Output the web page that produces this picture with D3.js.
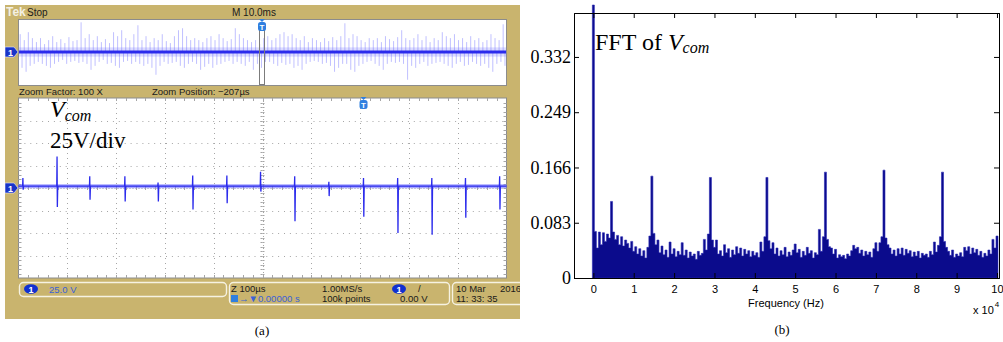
<!DOCTYPE html>
<html>
<head>
<meta charset="utf-8">
<script src="https://cdn.jsdelivr.net/npm/d3@7"></script>
<style>
  html, body { margin: 0; padding: 0; background: #fff; }
  svg { display: block; }
</style>
</head>
<body>
<svg id="fig" width="1003" height="342"></svg>
<script>
// ---- data: (a) scope, top window (10 ms/div), noise envelope per bin, volts
const topNoiseUp = [
  54, 36, 60, 42,
  30, 42, 24, 36, 48, 30, 39, 27, 45, 33, 36,
  90,
  42, 54, 36, 48, 30, 39, 27,
  60, 48, 66, 42, 36, 54,
  81,
  36, 48, 30, 42, 36, 54, 33, 27, 48,
  66, 72, 48, 36, 42,
  36, 30, 42, 48, 36, 54, 42, 33, 39,
  72, 54, 42, 36,
  30, 36, 24, 42,
  48, 36, 42, 54, 60, 48,
  54, 42, 36, 48, 30, 42,
  36, 30, 42, 33, 45, 36, 48,
  87,
  42, 54, 48, 36, 30, 42,
  36, 42, 30, 48, 39, 33,
  45, 66, 42, 36,
  42, 54, 36, 48, 30, 42, 36,
  60, 48, 42, 54, 36, 42, 30,
  48, 36, 42, 30, 36, 54,
  42, 36, 84
];
const topNoiseDown = [
  48, 60, 42, 36,
  30, 36, 42, 48, 36, 30, 24, 36, 30, 27, 33,
  30,
  36, 54, 42, 30, 24, 36, 33,
  42, 48, 30, 27, 36, 30,
  36,
  42, 36, 48, 69, 42, 30, 36, 33, 30,
  42, 48, 36, 30, 36,
  54, 45, 36, 48, 39, 36, 30, 27, 36,
  30, 36, 42, 30,
  54, 36, 48, 30,
  30, 36, 42, 33, 39, 36,
  48, 42, 54, 36, 30, 27,
  30, 36, 33, 42, 60, 48, 36,
  36,
  54, 60, 42, 36, 30, 27,
  36, 42, 54, 36, 30, 33,
  30, 36, 84, 42,
  48, 36, 30, 42, 36, 33, 30,
  36, 42, 48, 36, 30, 42, 39,
  30, 36, 42, 36, 48, 60,
  36, 30, 42
];

// ---- data: (a) scope, zoomed window (100 us/div, 25 V/div)
const vcomBase = 2;
const spikeTimes = [9, 79, 146, 218, 286, 357, 427, 496, 566, 636, 707, 777, 847, 916, 986];
const spikeUp    = [11, 35, 13, 13, 6, 14, 14, 18, 13, 7, 11, 11, 11, 11, 13];
const spikeDown  = [-2, -21, -13, -15, -15, -24, -17, -4, -37, -9, -32, -50, -52, -33, -24];
const triggerTime = 707;

// ---- data: (b) FFT of Vcom, magnitude every 0.05 x 10^4 Hz from 0 to 10
const fftStep = 0.05;
const fftMag = [
  0.410, 0.070, 0.045, 0.069, 0.050, 0.068, 0.055, 0.066, 0.060, 0.115,
  0.069, 0.058, 0.064, 0.050, 0.062, 0.048, 0.057, 0.052, 0.045, 0.055,
  0.040, 0.047, 0.036, 0.044, 0.033, 0.041, 0.030, 0.046, 0.063, 0.153,
  0.067, 0.050, 0.057, 0.038, 0.048, 0.035, 0.042, 0.031, 0.054, 0.036,
  0.044, 0.032, 0.040, 0.035, 0.053, 0.034, 0.042, 0.030, 0.039, 0.033,
  0.036, 0.028, 0.040, 0.034, 0.037, 0.058, 0.042, 0.066, 0.151, 0.057,
  0.046, 0.057, 0.036, 0.041, 0.033, 0.050, 0.038, 0.044, 0.031, 0.042,
  0.035, 0.047, 0.037, 0.045, 0.033, 0.043, 0.036, 0.041, 0.032, 0.040,
  0.034, 0.038, 0.031, 0.054, 0.040, 0.062, 0.151, 0.056, 0.044, 0.053,
  0.036, 0.045, 0.033, 0.041, 0.035, 0.046, 0.032, 0.039, 0.034, 0.042,
  0.051, 0.038, 0.043, 0.031, 0.040, 0.034, 0.046, 0.037, 0.041, 0.030,
  0.038, 0.035, 0.073, 0.040, 0.062, 0.159, 0.058, 0.047, 0.045, 0.036,
  0.043, 0.030, 0.035, 0.032, 0.034, 0.029, 0.036, 0.033, 0.041, 0.049,
  0.044, 0.046, 0.037, 0.042, 0.033, 0.040, 0.035, 0.039, 0.031, 0.044,
  0.053, 0.040, 0.053, 0.062, 0.162, 0.060, 0.050, 0.045, 0.036, 0.042,
  0.033, 0.044, 0.036, 0.045, 0.034, 0.043, 0.037, 0.041, 0.032, 0.039,
  0.033, 0.040, 0.030, 0.037, 0.034, 0.036, 0.031, 0.040, 0.035, 0.054,
  0.039, 0.049, 0.062, 0.159, 0.055, 0.046, 0.040, 0.034, 0.042, 0.031,
  0.036, 0.033, 0.038, 0.032, 0.046, 0.041, 0.047, 0.036, 0.045, 0.038,
  0.043, 0.034, 0.040, 0.031, 0.037, 0.033, 0.042, 0.036, 0.058, 0.045,
  0.063
];
const fftYTicks = [0, 0.083, 0.166, 0.249, 0.332];
const fftXTicks = [0, 1, 2, 3, 4, 5, 6, 7, 8, 9, 10];

const svg = d3.select('#fig');
const SANS = 'Liberation Sans, Arial, sans-serif';
const SERIF = 'Liberation Serif, Times New Roman, serif';

// ================= (a) oscilloscope =================
const KHAKI = '#c9b46e';
const TRACE = '#2b2bec';

svg.append('clipPath').attr('id', 'scopeClip')
  .append('rect').attr('x', 5).attr('y', 5).attr('width', 515).attr('height', 314);

const scope = svg.append('g').attr('clip-path', 'url(#scopeClip)');
scope.append('rect')
  .attr('x', 5).attr('y', 5).attr('width', 515).attr('height', 314)
  .attr('fill', KHAKI);

// header
scope.append('text').attr('x', 6).attr('y', 16)
  .attr('font-family', SANS).attr('font-size', 12).attr('font-weight', 'bold')
  .attr('fill', '#f4f0e4').text('Tek');
scope.append('text').attr('x', 27).attr('y', 16)
  .attr('font-family', SANS).attr('font-size', 10).attr('fill', '#1a1a1a').text('Stop');
scope.append('text').attr('x', 232).attr('y', 16)
  .attr('font-family', SANS).attr('font-size', 10).attr('fill', '#1a1a1a').text('M 10.0ms');

// channel marker
function chMarker(g, cy) {
  g.append('path')
    .attr('d', `M5,${cy - 5}H14L18,${cy}L14,${cy + 5}H5Z`)
    .attr('fill', '#1834c8').attr('stroke', '#e8e8ff').attr('stroke-width', 0.6);
  g.append('text').attr('x', 10.5).attr('y', cy + 3.5).attr('text-anchor', 'middle')
    .attr('font-family', SANS).attr('font-size', 9).attr('font-weight', 'bold')
    .attr('fill', '#fff').text('1');
}
// trigger marker
function trigMarker(g, cx, top) {
  g.append('path')
    .attr('d', `M${cx - 3},${top}H${cx + 3}L${cx},${top + 3}Z`)
    .attr('fill', '#2f7fe0');
  g.append('rect').attr('x', cx - 4).attr('y', top + 3).attr('width', 8).attr('height', 9)
    .attr('rx', 2.5).attr('fill', '#2f7fe0');
  g.append('text').attr('x', cx).attr('y', top + 10.5).attr('text-anchor', 'middle')
    .attr('font-family', SANS).attr('font-size', 8).attr('font-weight', 'bold')
    .attr('fill', '#fff').text('T');
}

// top (overview) window
const topX = d3.scaleLinear().domain([0, topNoiseUp.length]).range([19, 506]);
const topY = d3.scaleLinear().domain([-100, 100]).range([85, 19]);

scope.append('rect')
  .attr('x', 18.5).attr('y', 19.5).attr('width', 488).attr('height', 66)
  .attr('fill', '#fff').attr('stroke', '#8c8c8c');

const nBins = Math.min(topNoiseUp.length, topNoiseDown.length);
const bins = d3.range(nBins);
// fuzz band around the trace
scope.append('rect')
  .attr('x', topX(0)).attr('width', topX(nBins) - topX(0))
  .attr('y', topY(14)).attr('height', topY(-14) - topY(14))
  .attr('fill', '#8080ff').attr('fill-opacity', 0.28);
scope.append('g').selectAll('line')
  .data(bins).join('line')
  .attr('x1', (i) => topX(i + 0.3)).attr('x2', (i) => topX(i + 0.3))
  .attr('y1', topY(0)).attr('y2', (i) => topY(topNoiseUp[i]))
  .attr('stroke', '#5a5aff').attr('stroke-opacity', 0.38).attr('stroke-width', 1);
scope.append('g').selectAll('line')
  .data(bins).join('line')
  .attr('x1', (i) => topX(i + 0.75)).attr('x2', (i) => topX(i + 0.75))
  .attr('y1', topY(0)).attr('y2', (i) => topY(-topNoiseDown[i]))
  .attr('stroke', '#5a5aff').attr('stroke-opacity', 0.38).attr('stroke-width', 1);
scope.append('line')
  .attr('x1', topX(0)).attr('x2', topX(nBins))
  .attr('y1', topY(0)).attr('y2', topY(0))
  .attr('stroke', TRACE).attr('stroke-width', 3);

// zoom window indicator
scope.append('rect')
  .attr('x', 259.5).attr('y', 30.5).attr('width', 5).attr('height', 54)
  .attr('fill', 'none').attr('stroke', '#7c7c7c');
trigMarker(scope, 262, 19);
chMarker(scope, topY(0));

scope.append('text').attr('x', 19).attr('y', 95)
  .attr('font-family', SANS).attr('font-size', 9.5).attr('fill', '#1a1a1a')
  .text('Zoom Factor: 100 X');
scope.append('text').attr('x', 152).attr('y', 95)
  .attr('font-family', SANS).attr('font-size', 9.5).attr('fill', '#1a1a1a')
  .text('Zoom Position: \u2212207\u00b5s');

// zoomed window
const lowX = d3.scaleLinear().domain([0, 1000]).range([18.5, 506.5]);
const lowY = d3.scaleLinear().domain([-100, 100]).range([278, 98]);

scope.append('rect')
  .attr('x', 18.5).attr('y', 98).attr('width', 488).attr('height', 180)
  .attr('fill', '#fff').attr('stroke', '#8c8c8c');

const grid = scope.append('g').attr('stroke', '#a6a6a6').attr('stroke-width', 1);
grid.selectAll('line.v')
  .data(d3.range(100, 1000, 100)).join('line')
  .attr('x1', (t) => Math.round(lowX(t)) + 0.5).attr('x2', (t) => Math.round(lowX(t)) + 0.5)
  .attr('y1', lowY(100)).attr('y2', lowY(-100))
  .attr('stroke-dasharray', (t) => (t === 500 ? '1,2' : '1,4'));
grid.selectAll('line.h')
  .data(d3.range(-75, 100, 25)).join('line')
  .attr('y1', (v) => Math.round(lowY(v)) + 0.5).attr('y2', (v) => Math.round(lowY(v)) + 0.5)
  .attr('x1', lowX(0)).attr('x2', lowX(1000))
  .attr('stroke-dasharray', (v) => (v === 0 ? '1,2' : '1,4.9'));
// minor ticks on borders and center lines
const minorT = d3.range(20, 1000, 20);
const minorV = d3.range(-95, 100, 5);
[[lowY(100), 3], [lowY(-100), -3], [lowY(0), 2], [lowY(0), -2]].forEach(([y0, len]) => {
  grid.append('g').selectAll('line')
    .data(minorT).join('line')
    .attr('x1', (t) => Math.round(lowX(t)) + 0.5).attr('x2', (t) => Math.round(lowX(t)) + 0.5)
    .attr('y1', y0).attr('y2', y0 + len);
});
[[lowX(0), 3], [lowX(1000), -3], [lowX(500), 2], [lowX(500), -2]].forEach(([x0, len]) => {
  grid.append('g').selectAll('line')
    .data(minorV).join('line')
    .attr('y1', (v) => Math.round(lowY(v)) + 0.5).attr('y2', (v) => Math.round(lowY(v)) + 0.5)
    .attr('x1', x0).attr('x2', x0 + len);
});

// Vcom trace
const tracePts = [[0, vcomBase]];
spikeTimes.forEach((t, i) => {
  tracePts.push([t - 0.6, vcomBase], [t, spikeUp[i]], [t + 0.6, spikeDown[i]], [t + 1.4, vcomBase]);
});
tracePts.push([1000, vcomBase]);
const traceLine = d3.line().x((d) => lowX(d[0])).y((d) => lowY(d[1]));

scope.append('line')
  .attr('x1', lowX(0)).attr('x2', lowX(1000))
  .attr('y1', lowY(vcomBase)).attr('y2', lowY(vcomBase))
  .attr('stroke', '#6a6aff').attr('stroke-opacity', 0.6).attr('stroke-width', 4);
scope.append('path')
  .datum(tracePts)
  .attr('d', traceLine)
  .attr('fill', 'none').attr('stroke', TRACE).attr('stroke-width', 1.3);

trigMarker(scope, lowX(triggerTime), 97);
chMarker(scope, lowY(0));

const vlabel = scope.append('text').attr('x', 50).attr('y', 117)
  .attr('font-family', SERIF).attr('fill', '#000');
vlabel.append('tspan').attr('font-size', 24).attr('font-style', 'italic').text('V');
vlabel.append('tspan').attr('font-size', 16).attr('font-style', 'italic').attr('dy', 4).text('com');
scope.append('text').attr('x', 50).attr('y', 148)
  .attr('font-family', SERIF).attr('font-size', 23).attr('fill', '#000').text('25V/div');

// status boxes
const BOX = '#f6f2e2';
[[19.5, 282.5, 207, 14], [229.5, 282.5, 220, 22], [452.5, 282.5, 80, 22]].forEach(([x, y, w, h]) => {
  scope.append('rect').attr('x', x).attr('y', y).attr('width', w).attr('height', h)
    .attr('rx', 4).attr('fill', 'none').attr('stroke', BOX).attr('stroke-width', 1.4);
});
function chEllipse(cx, cy) {
  scope.append('ellipse').attr('cx', cx).attr('cy', cy).attr('rx', 7).attr('ry', 4.8)
    .attr('fill', '#1030d0');
  scope.append('text').attr('x', cx).attr('y', cy + 3.5).attr('text-anchor', 'middle')
    .attr('font-family', SANS).attr('font-size', 9).attr('font-weight', 'bold')
    .attr('fill', '#fff').text('1');
}
function sText(x, y, s, color) {
  scope.append('text').attr('x', x).attr('y', y)
    .attr('font-family', SANS).attr('font-size', 9.5)
    .attr('fill', color || '#1a1a1a').text(s);
}
chEllipse(31, 289);
sText(49, 293, '25.0 V', '#3a62d8');
sText(231, 292, 'Z 100\u00b5s');
sText(322, 292, '1.00MS/s');
chEllipse(399, 289);
sText(418, 292, '/');
scope.append('rect').attr('x', 231).attr('y', 295).attr('width', 7).attr('height', 7)
  .attr('fill', '#2f7fe0');
sText(239, 302, '\u2192\u25bc0.00000 s', '#3a62d8');
sText(322, 302, '100k points');
sText(400, 302, '0.00 V');
sText(456, 292, '10 Mar');
sText(500, 292, '2016');
sText(456, 302, '11: 33: 35');

svg.append('text').attr('x', 262).attr('y', 335).attr('text-anchor', 'middle')
  .attr('font-family', SERIF).attr('font-size', 13).text('(a)');

// ================= (b) FFT =================
const fx = d3.scaleLinear().domain([-0.48, 10.05]).range([574, 999]);
const fy = d3.scaleLinear().domain([0, 0.398]).range([278, 13]);
const fft = fftMag.map((v, i) => ({ f: i * fftStep, v }));
// closing point so the last bar gets its width in a step area
const fftSteps = fft.concat([{ f: fft[fft.length - 1].f + fftStep, v: fft[fft.length - 1].v }]);

const plot = svg.append('g');
const barArea = d3.area()
  .curve(d3.curveStepAfter)
  .x((d) => fx(d.f - fftStep / 2))
  .y0(fy(0))
  .y1((d) => fy(d.v));
plot.append('path')
  .datum(fftSteps)
  .attr('d', barArea)
  .attr('fill', '#0b0b8c')
  .attr('stroke', '#2828b4')
  .attr('stroke-width', 0.6);

// axes, MATLAB style: inward ticks, full box
const yAxis = d3.axisLeft(fy).tickValues(fftYTicks).tickSize(-5).tickPadding(3)
  .tickFormat((d) => (d === 0 ? '0' : d3.format('.3f')(d)));
const gy = plot.append('g').attr('transform', `translate(${fx.range()[0]},0)`).call(yAxis);
gy.selectAll('text').attr('font-family', SERIF).attr('font-size', 18).attr('fill', '#000');

const xAxis = d3.axisBottom(fx).tickValues(fftXTicks).tickSize(-5).tickPadding(7)
  .tickFormat(d3.format('d'));
const gx = plot.append('g').attr('transform', `translate(0,${fy(0)})`).call(xAxis);
gx.selectAll('text').attr('font-family', SANS).attr('font-size', 11).attr('fill', '#000');

plot.append('g').attr('transform', `translate(0,${fy.range()[1]})`)
  .call(d3.axisTop(fx).tickValues(fftXTicks).tickSize(-5).tickFormat(''));
plot.append('g').attr('transform', `translate(${fx.range()[1]},0)`)
  .call(d3.axisRight(fy).tickValues(fftYTicks).tickSize(-5).tickFormat(''));
plot.selectAll('.domain').attr('stroke', '#000');
plot.selectAll('.tick line').attr('stroke', '#000');

plot.append('text').attr('x', 786).attr('y', 307).attr('text-anchor', 'middle')
  .attr('font-family', SANS).attr('font-size', 11).text('Frequency (Hz)');
const exp = plot.append('text').attr('x', 973).attr('y', 314)
  .attr('font-family', SANS).attr('font-size', 11);
exp.append('tspan').text('x 10');
exp.append('tspan').attr('font-size', 8).attr('dy', -7).attr('dx', 1).text('4');

const title = plot.append('text').attr('x', 595).attr('y', 50)
  .attr('font-family', SERIF).attr('fill', '#000');
title.append('tspan').attr('font-size', 24).text('FFT of ');
title.append('tspan').attr('font-size', 24).attr('font-style', 'italic').text('V');
title.append('tspan').attr('font-size', 16).attr('font-style', 'italic').attr('dy', 3).text('com');

svg.append('text').attr('x', 782).attr('y', 334).attr('text-anchor', 'middle')
  .attr('font-family', SERIF).attr('font-size', 13).text('(b)');
</script>
</body>
</html>
